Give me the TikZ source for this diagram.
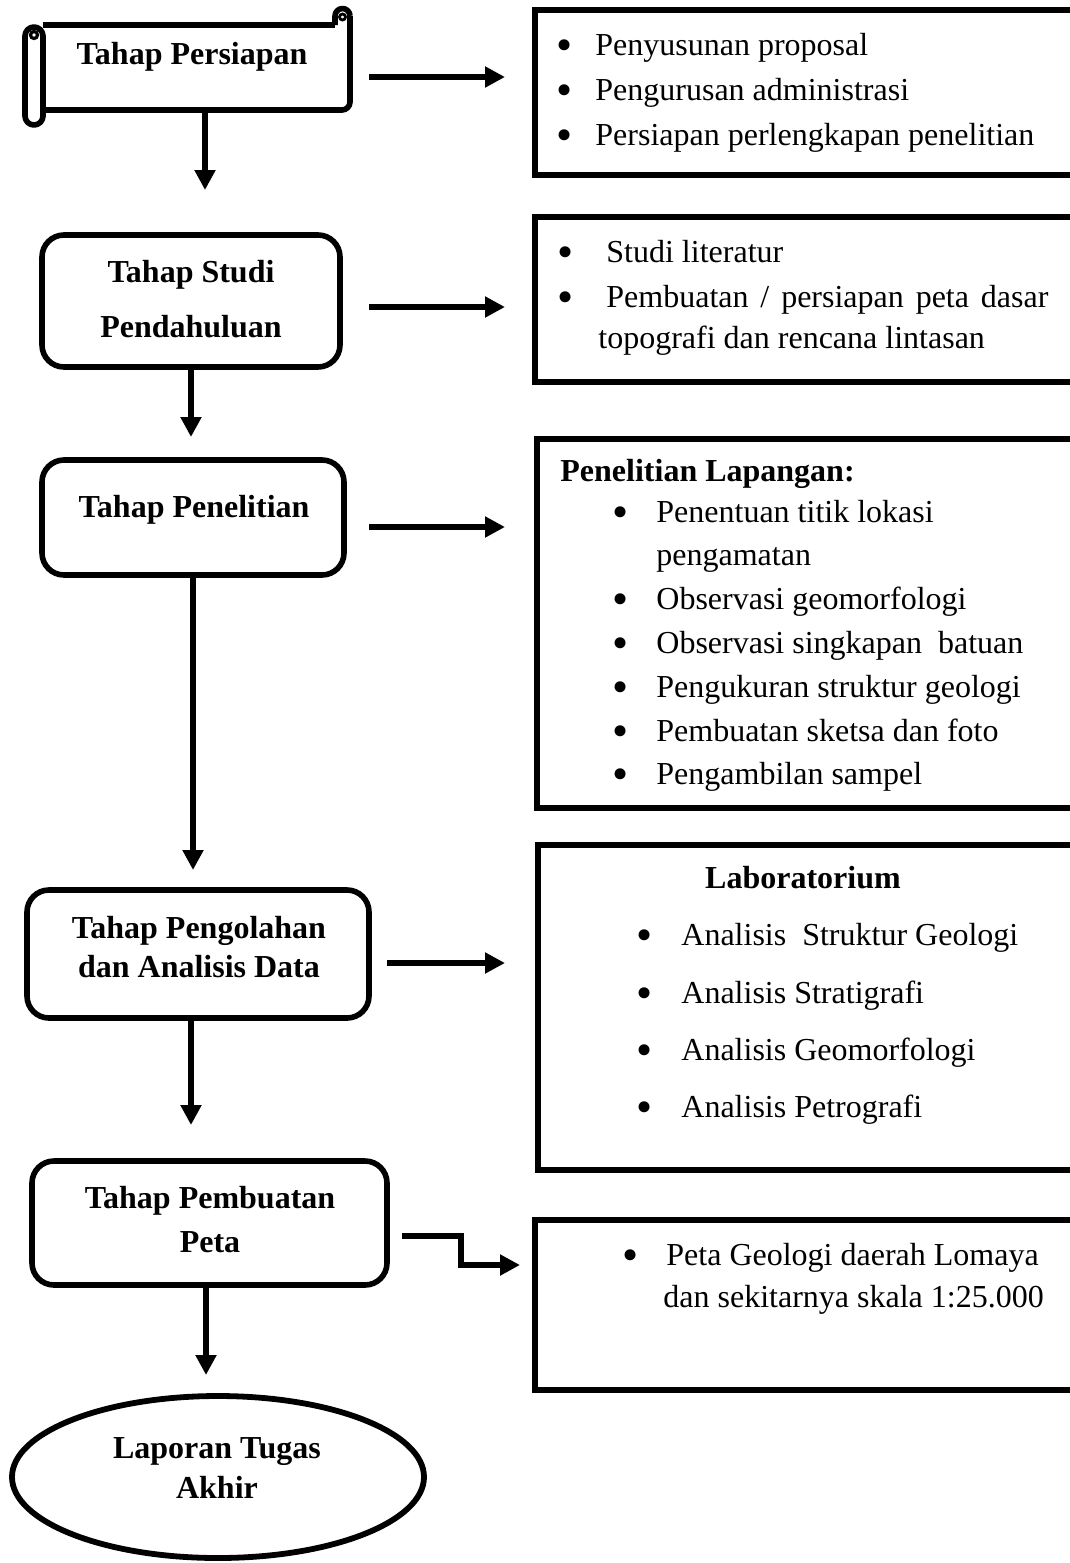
\documentclass[tikz,border=0pt]{standalone}
\usepackage{fontspec}
\setmainfont{Liberation Serif}
\usetikzlibrary{arrows.meta,shapes.geometric}
\newcommand\myfs{\fontsize{16pt}{19pt}\selectfont}
\newcommand\mybulfs{\fontsize{23pt}{23pt}\selectfont}
\begin{document}
\begin{tikzpicture}[x=0.5pt,y=-0.5pt,
  rbox/.style={draw, line width=2.8pt, rounded corners=11pt, inner sep=0pt},
  sbox/.style={draw, line width=2.9pt, inner sep=0pt},
  sl/.style={line width=2.8pt, line join=round},
  arr/.style={line width=2.6pt, -{Triangle[length=10pt,width=10pt]}},
  btxt/.style={font=\myfs\bfseries, anchor=base, inner sep=0pt},
  btxtl/.style={font=\myfs\bfseries, anchor=base west, inner sep=0pt},
  txt/.style={font=\myfs, anchor=base west, inner sep=0pt},
  bul/.style={font=\mybulfs, anchor=base, inner sep=0pt, yshift=-2.5pt}]
\useasboundingbox (0,0) rectangle (1070,1563);
\fill[white] (0,0) rectangle (1070,1563);

% ---------- scroll (Tahap Persiapan) ----------
\node[inner sep=0pt, minimum width=153.5pt, minimum height=42.5pt] (s1) at (196.5,67.5) {};
\draw[sl] (43,25) -- (335,25);
\draw[sl, rounded corners=4pt] (43,110) -- (350,110) -- (350,16);
\draw[sl] (350,16) arc (0:-180:7.5) -- (335,25);
\draw[line width=1.4pt] (342.5,17) circle (3);
\draw[sl, rounded corners=4.5pt] (25,27) rectangle (43,125);
\draw[line width=1.6pt] (34,35) circle (3.5);
\node[btxt] (s1t) at (192,64) {Tahap Persiapan};

% ---------- left boxes ----------
\node[rbox, minimum width=149pt, minimum height=66pt] (b2) at (191,301) {};
\node[btxt] (b2t1) at (191,282) {Tahap Studi};
\node[btxt] (b2t2) at (191,337) {Pendahuluan};

\node[rbox, minimum width=151pt, minimum height=57.5pt] (b3) at (193,517.5) {};
\node[btxt] (b3t) at (194,517) {Tahap Penelitian};

\node[rbox, minimum width=171pt, minimum height=64pt] (b4) at (198,954) {};
\node[btxt] (b4t1) at (199,938) {Tahap Pengolahan};
\node[btxt] (b4t2) at (199,977) {dan Analisis Data};

\node[rbox, minimum width=177.5pt, minimum height=62pt] (b5) at (209.5,1223) {};
\node[btxt] (b5t1) at (210,1208) {Tahap Pembuatan};
\node[btxt] (b5t2) at (210,1252) {Peta};

\node[draw, ellipse, line width=2.9pt, inner sep=0pt, minimum width=206pt, minimum height=81pt] (e) at (218,1477) {};
\node[btxt] (et1) at (217,1458) {Laporan Tugas};
\node[btxt] (et2) at (217,1498) {Akhir};

% ---------- right boxes ----------
\node[sbox, minimum width=270.5pt, minimum height=82.5pt] (r1) at (805.5,92.5) {};
\node[bul] (r1b1) at (565,55) {•};
\node[bul] (r1b2) at (565,100) {•};
\node[bul] (r1b3) at (565,145) {•};
\node[txt] (r1t1) at (595,55) {Penyusunan proposal};
\node[txt] (r1t2) at (595,100) {Pengurusan administrasi};
\node[txt] (r1t3) at (595,145) {Persiapan perlengkapan penelitian};

\node[sbox, minimum width=270.5pt, minimum height=82.5pt] (r2) at (805.5,299.5) {};
\node[bul] (r2b1) at (566,262) {•};
\node[bul] (r2b2) at (566,307) {•};
\node[txt] (r2t1) at (606,262) {Studi literatur};
\node[txt] (r2t2) at (606,307) {\makebox[221pt][s]{Pembuatan / persiapan peta dasar}};
\node[txt] (r2t3) at (598,348) {topografi dan rencana lintasan};

\node[sbox, minimum width=269.5pt, minimum height=184.5pt] (r3) at (806.5,623.5) {};
\node[btxtl] (r3h) at (560,481) {Penelitian Lapangan:};
\node[bul] (r3b1) at (621,522) {•};
\node[bul] (r3b3) at (621,609) {•};
\node[bul] (r3b4) at (621,653) {•};
\node[bul] (r3b5) at (621,697) {•};
\node[bul] (r3b6) at (621,741) {•};
\node[bul] (r3b7) at (621,784) {•};
\node[txt] (r3t1) at (656,522) {Penentuan titik lokasi};
\node[txt] (r3t2) at (656,565) {pengamatan};
\node[txt] (r3t3) at (656,609) {Observasi geomorfologi};
\node[txt] (r3t4) at (656,653) {Observasi singkapan\ \ batuan};
\node[txt] (r3t5) at (656,697) {Pengukuran struktur geologi};
\node[txt] (r3t6) at (656,741) {Pembuatan sketsa dan foto};
\node[txt] (r3t7) at (656,784) {Pengambilan sampel};

\node[sbox, minimum width=269pt, minimum height=162.5pt] (r4) at (807,1007.5) {};
\node[btxt] (r4h) at (803,888) {Laboratorium};
\node[bul] (r4b1) at (645,945) {•};
\node[bul] (r4b2) at (645,1003) {•};
\node[bul] (r4b3) at (645,1060) {•};
\node[bul] (r4b4) at (645,1117) {•};
\node[txt] (r4t1) at (681,945) {Analisis\ \ Struktur Geologi};
\node[txt] (r4t2) at (681,1003) {Analisis Stratigrafi};
\node[txt] (r4t3) at (681,1060) {Analisis Geomorfologi};
\node[txt] (r4t4) at (681,1117) {Analisis Petrografi};

\node[sbox, minimum width=270.5pt, minimum height=85pt] (r5) at (805.5,1305) {};
\node[bul] (r5b1) at (631,1265) {•};
\node[txt] (r5t1) at (666,1265) {Peta Geologi daerah Lomaya};
\node[txt] (r5t2) at (663,1307) {dan sekitarnya skala 1:25.000};

% ---------- connectors ----------
\coordinate (t1) at (205,190);
\coordinate (t2) at (191,437);
\coordinate (t3) at (193,870);
\coordinate (t4) at (191,1125);
\coordinate (t5) at (206,1375);
\draw[arr] (t1 |- s1.south) -- (t1);
\draw[arr] (t2 |- b2.south) -- (t2);
\draw[arr] (t3 |- b3.south) -- (t3);
\draw[arr] (t4 |- b4.south) -- (t4);
\draw[arr] (t5 |- b5.south) -- (t5);

\coordinate (h1a) at (369,77);   \coordinate (h1b) at (505,77);
\coordinate (h2a) at (369,307);  \coordinate (h2b) at (505,307);
\coordinate (h3a) at (369,527);  \coordinate (h3b) at (505,527);
\coordinate (h4a) at (387,963);  \coordinate (h4b) at (505,963);
\coordinate (h5a) at (402,1236); \coordinate (h5b) at (520,1265);
\draw[arr] (h1a) -- (h1b);
\draw[arr] (h2a) -- (h2b);
\draw[arr] (h3a) -- (h3b);
\draw[arr] (h4a) -- (h4b);
\draw[arr, line join=miter] (h5a) -- (461,1236) -- (461,1265) -- (h5b);
\end{tikzpicture}
\end{document}
